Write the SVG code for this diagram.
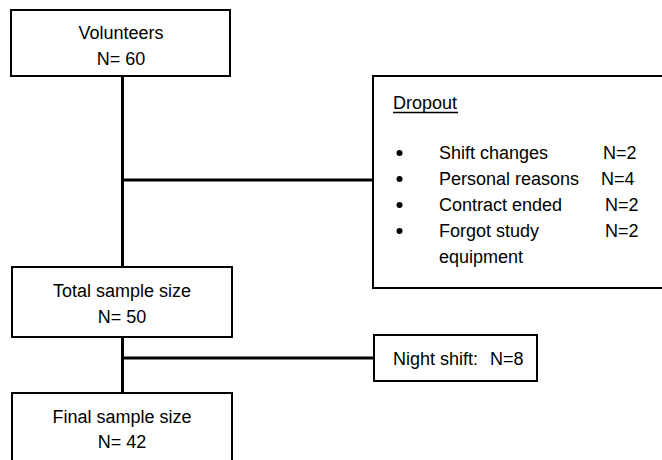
<svg xmlns="http://www.w3.org/2000/svg" width="662" height="460" viewBox="0 0 662 460">
<style>
.box{fill:#fff;stroke:#000;stroke-width:2}
.conn{stroke:#000;stroke-width:3;fill:none}
text{font-family:"Liberation Sans",Arial,sans-serif;font-size:18px;fill:#000}
.c{text-anchor:middle}
</style>
<rect width="662" height="460" fill="#fff"/>
<g id="connectors">
<line class="conn" x1="122.5" y1="76" x2="122.5" y2="267"/>
<line class="conn" x1="122.5" y1="180" x2="374" y2="180"/>
<line class="conn" x1="122.5" y1="337" x2="122.5" y2="393"/>
<line class="conn" x1="122.5" y1="358" x2="374" y2="358"/>
</g>
<g id="volunteers">
<rect class="box" x="11" y="10" width="219" height="66"/>
<text class="c" x="121" y="39">Volunteers</text>
<text class="c" x="121" y="65">N= 60</text>
</g>
<g id="dropout">
<rect class="box" x="373" y="76" width="300" height="212"/>
<text x="393" y="109">Dropout</text>
<line x1="393" y1="112.5" x2="458" y2="112.5" stroke="#000" stroke-width="1.3"/>
<circle cx="399.5" cy="153" r="3"/>
<circle cx="399.5" cy="179" r="3"/>
<circle cx="399.5" cy="205" r="3"/>
<circle cx="399.5" cy="231" r="3"/>
<text x="439" y="159">Shift changes</text>
<text x="439" y="185">Personal reasons</text>
<text x="439" y="211">Contract ended</text>
<text x="439" y="237">Forgot study</text>
<text x="439" y="263">equipment</text>
<text x="603" y="159">N=2</text>
<text x="601" y="185">N=4</text>
<text x="605" y="211">N=2</text>
<text x="605" y="237">N=2</text>
</g>
<g id="total">
<rect class="box" x="12" y="267" width="220" height="70"/>
<text class="c" x="122" y="297">Total sample size</text>
<text class="c" x="122" y="323">N= 50</text>
</g>
<g id="nightshift">
<rect class="box" x="374" y="335" width="163" height="46"/>
<text x="393" y="365">Night shift:</text>
<text x="490" y="365">N=8</text>
</g>
<g id="final">
<rect class="box" x="12" y="393" width="220" height="80"/>
<text class="c" x="122" y="423">Final sample size</text>
<text class="c" x="122" y="448">N= 42</text>
</g>
</svg>
